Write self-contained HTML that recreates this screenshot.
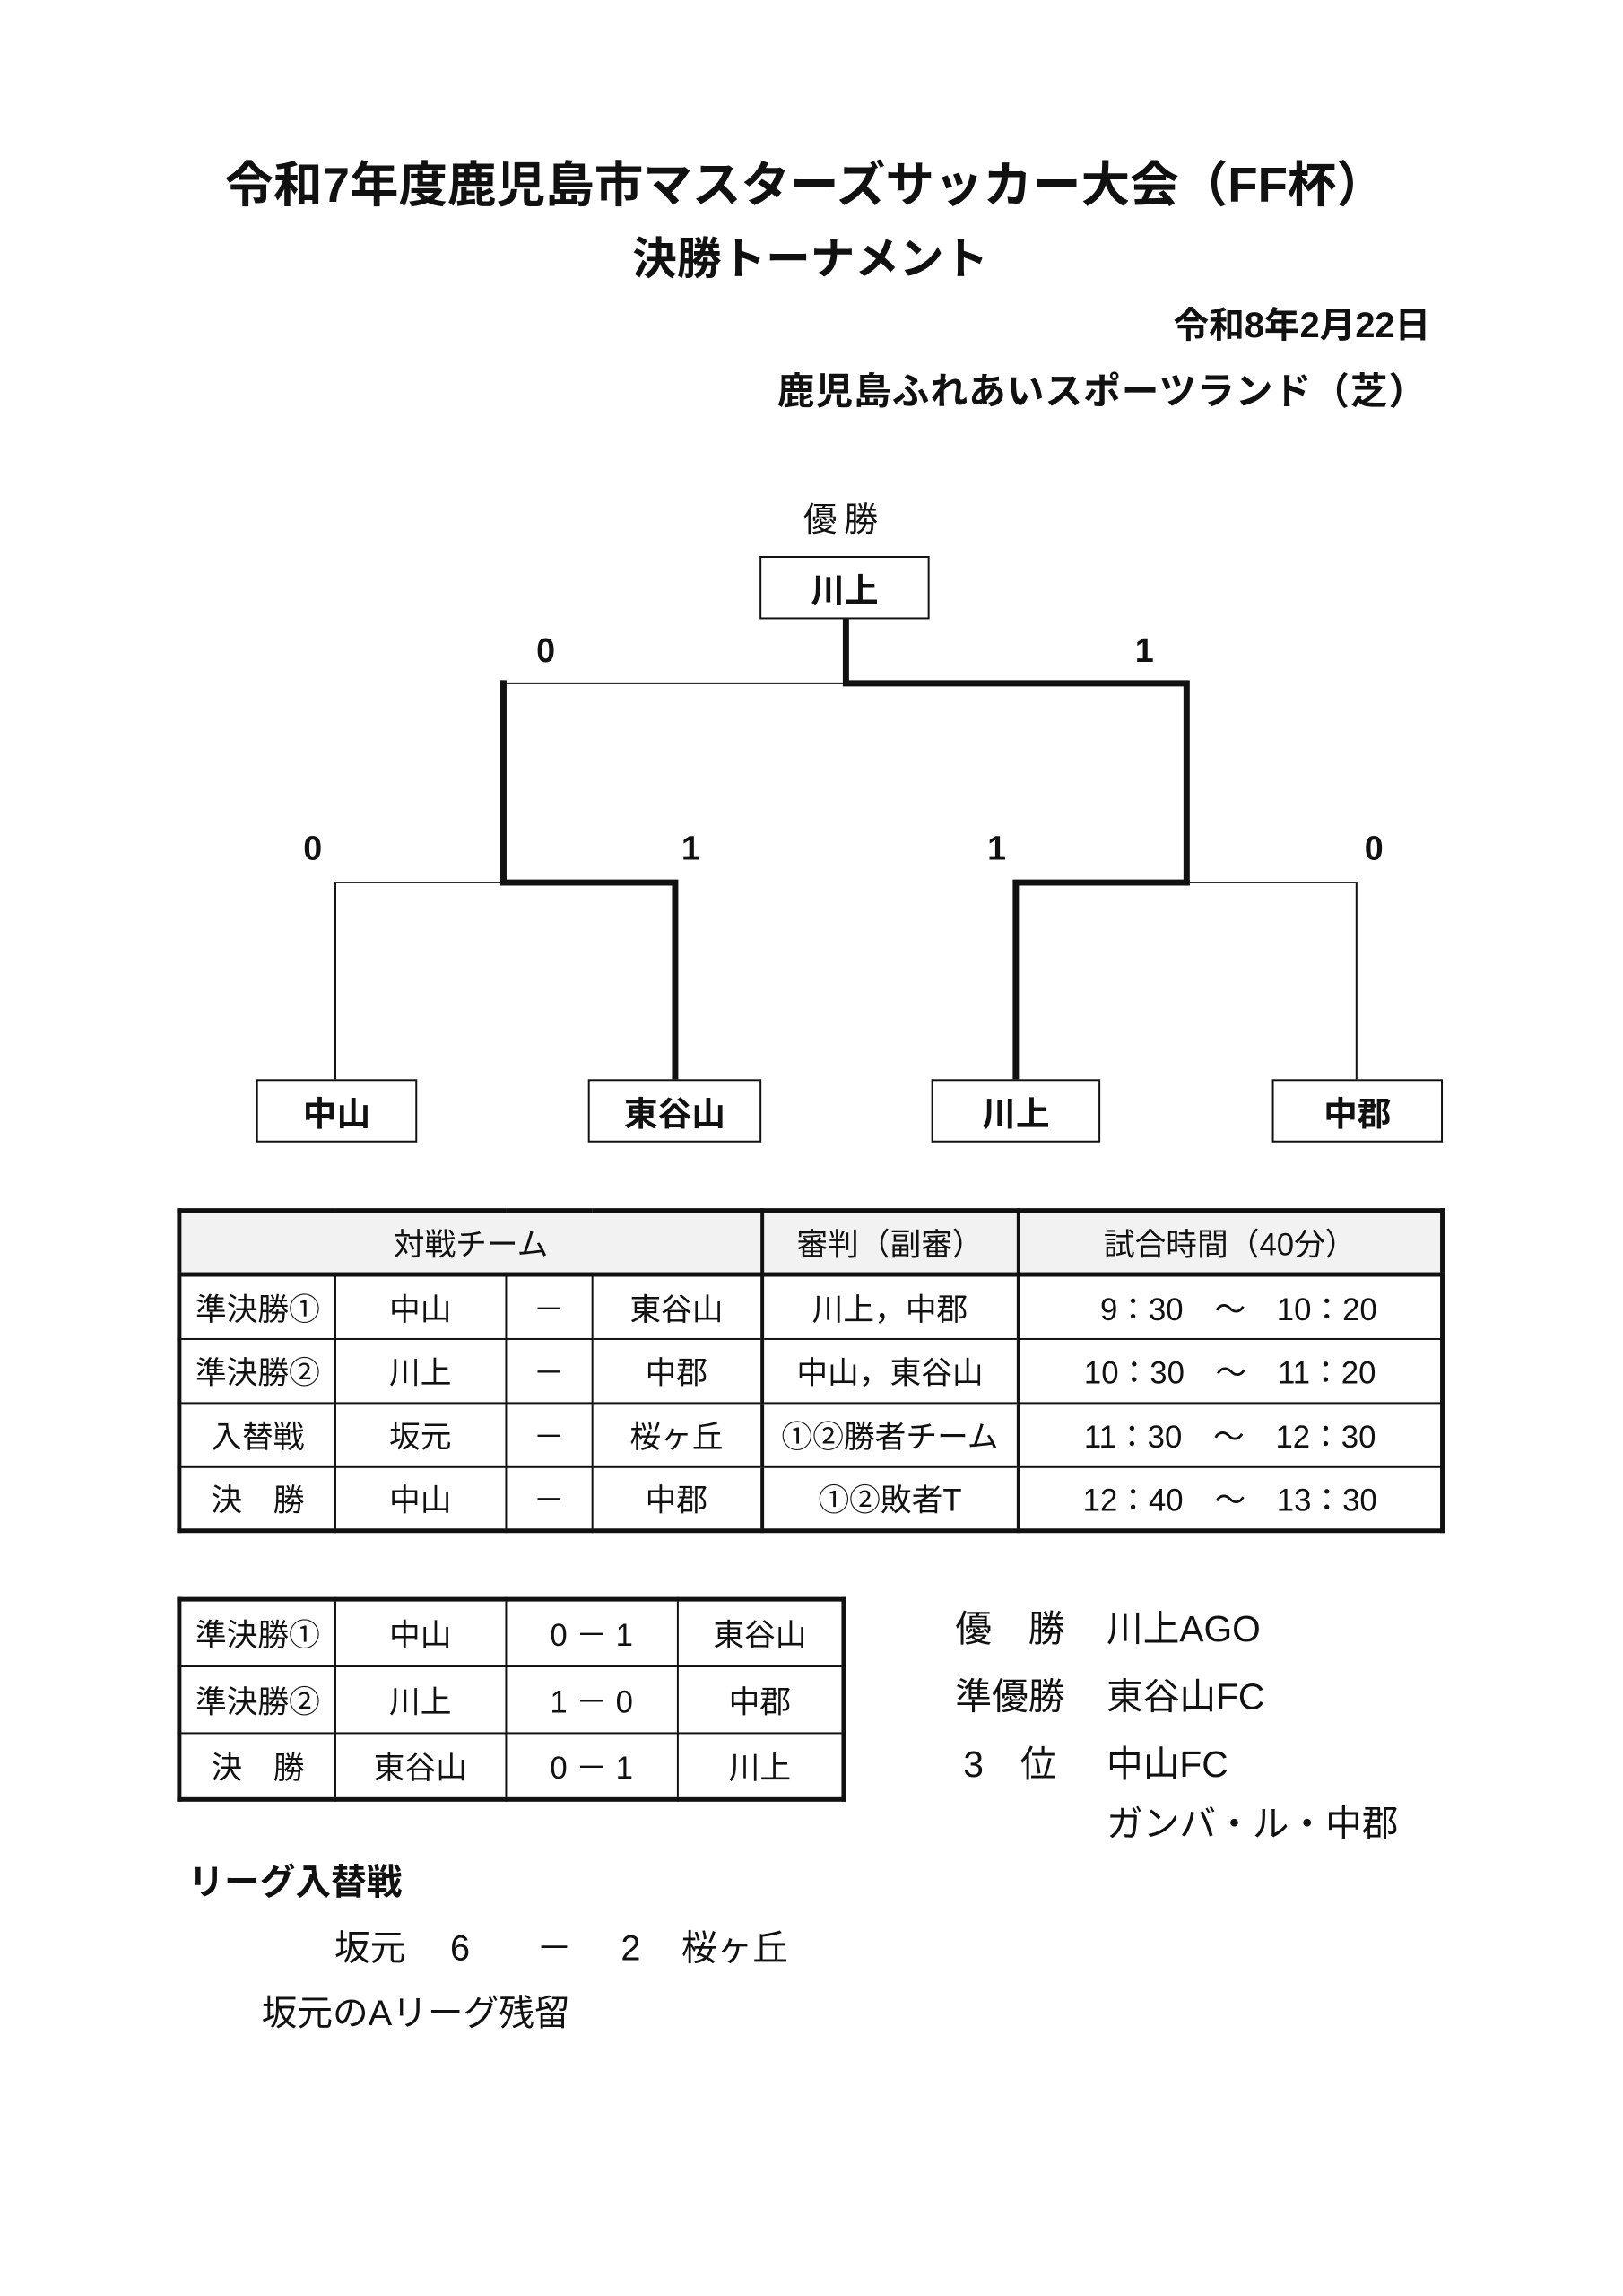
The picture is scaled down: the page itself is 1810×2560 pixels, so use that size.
<!DOCTYPE html>
<html><head><meta charset="utf-8"><style>
body{margin:0;background:#fff;}
#w{width:1810px;height:2560px;overflow:hidden;position:relative;}
#p{position:relative;width:1810px;height:2560px;transform:scale(0.992);transform-origin:0 0;font-family:"Liberation Sans","Noto Sans CJK JP",sans-serif;color:#111;}
.t{position:absolute;white-space:nowrap;line-height:1;}
.b{font-weight:bold;}
.box{position:absolute;border:2px solid #111;box-sizing:border-box;display:flex;align-items:center;justify-content:center;font-weight:bold;font-size:38px;background:#fff;}
table{position:absolute;border-collapse:collapse;font-size:35px;}
td{border:2px solid #111;text-align:center;padding:0;}
</style></head><body><div id="w"><div id="p">
<div class="t b" style="left:0;width:1810px;text-align:center;top:181px;font-size:55px;box-sizing:border-box">令和7年度鹿児島市マスターズサッカー大会（FF杯）</div>
<div class="t b" style="left:711px;top:266px;font-size:50px">決勝トーナメント</div>
<div class="t b" style="right:202px;top:346px;font-size:40px">令和8年2月22日</div>
<div class="t b" style="right:206px;top:419px;font-size:42px;letter-spacing:1px">鹿児島ふれあいスポーツランド（芝）</div>
<div class="t" style="left:903px;top:566px;font-size:38px;letter-spacing:8px">優勝</div>

<svg width="1810" height="2560" style="position:absolute;left:0;top:0">
<g fill="none" stroke="#111" stroke-linecap="square">
<path d="M566 768 H951" stroke-width="2"/>
<path d="M951 696 V768 H1334 V992" stroke-width="7"/>
<path d="M566 768 V992 H759 V1213" stroke-width="7"/>
<path d="M377 1213 V992 H566" stroke-width="2"/>
<path d="M1142 1213 V992 H1334" stroke-width="7"/>
<path d="M1334 992 H1525 V1213" stroke-width="2"/>
</g></svg>

<div class="box" style="left:854px;top:625px;width:191px;height:71px">川上</div>
<div class="box" style="left:288px;top:1213px;width:181px;height:71px">中山</div>
<div class="box" style="left:661px;top:1213px;width:195px;height:71px">東谷山</div>
<div class="box" style="left:1047px;top:1213px;width:190px;height:71px">川上</div>
<div class="box" style="left:1430px;top:1213px;width:192px;height:71px">中郡</div>

<div class="t b" style="left:603px;top:713px;font-size:38px">0</div>
<div class="t b" style="left:1276px;top:713px;font-size:38px">1</div>
<div class="t b" style="left:341px;top:935px;font-size:38px">0</div>
<div class="t b" style="left:766px;top:935px;font-size:38px">1</div>
<div class="t b" style="left:1110px;top:935px;font-size:38px">1</div>
<div class="t b" style="left:1534px;top:935px;font-size:38px">0</div>

<table style="left:199px;top:1358px;width:1425px;border:5px solid #111">
<colgroup><col style="width:175px"><col style="width:192px"><col style="width:97px"><col style="width:191px"><col style="width:288px"><col></colgroup>
<tr style="height:72px;background:#f2f2f2;border-bottom:5px solid #111"><td colspan="4">対戦チーム</td><td style="border-left:4px solid #111">審判（副審）</td><td style="border-left:4px solid #111">試合時間（40分）</td></tr>
<tr style="height:72px"><td>準決勝①</td><td>中山</td><td>－</td><td>東谷山</td><td style="border-left:4px solid #111">川上，中郡</td><td style="border-left:4px solid #111">&nbsp;&nbsp;9：30　～　10：20</td></tr>
<tr style="height:72px"><td>準決勝②</td><td>川上</td><td>－</td><td>中郡</td><td style="border-left:4px solid #111">中山，東谷山</td><td style="border-left:4px solid #111">10：30　～　11：20</td></tr>
<tr style="height:72px"><td>入替戦</td><td>坂元</td><td>－</td><td>桜ヶ丘</td><td style="border-left:4px solid #111">①②勝者チーム</td><td style="border-left:4px solid #111">11：30　～　12：30</td></tr>
<tr style="height:72px"><td>決　勝</td><td>中山</td><td>－</td><td>中郡</td><td style="border-left:4px solid #111">①②敗者T</td><td style="border-left:4px solid #111">12：40　～　13：30</td></tr>
</table>

<table style="left:199px;top:1795px;width:752px;border:5px solid #111">
<colgroup><col style="width:175px"><col style="width:192px"><col style="width:193px"><col></colgroup>
<tr style="height:75px"><td>準決勝①</td><td>中山</td><td>0 － 1</td><td>東谷山</td></tr>
<tr style="height:75px"><td>準決勝②</td><td>川上</td><td>1 － 0</td><td>中郡</td></tr>
<tr style="height:75px"><td>決　勝</td><td>東谷山</td><td>0 － 1</td><td>川上</td></tr>
</table>

<div class="t" style="left:1074px;top:1811px;font-size:41px">優　勝</div>
<div class="t" style="left:1244px;top:1811px;font-size:41px">川上AGO</div>
<div class="t" style="left:1074px;top:1887px;font-size:41px">準優勝</div>
<div class="t" style="left:1244px;top:1887px;font-size:41px">東谷山FC</div>
<div class="t" style="left:1083px;top:1963px;font-size:41px">3　位</div>
<div class="t" style="left:1244px;top:1963px;font-size:41px">中山FC</div>
<div class="t" style="left:1244px;top:2030px;font-size:41px">ガンバ・ル・中郡</div>

<div class="t b" style="left:212px;top:2096px;font-size:40px">リーグ入替戦</div>
<div class="t" style="left:376px;top:2170px;font-size:40px">坂元</div>
<div class="t" style="left:506px;top:2170px;font-size:40px">6</div>
<div class="t" style="left:603px;top:2170px;font-size:40px">－</div>
<div class="t" style="left:698px;top:2170px;font-size:40px">2</div>
<div class="t" style="left:766px;top:2170px;font-size:40px">桜ヶ丘</div>
<div class="t" style="left:294px;top:2243px;font-size:40px">坂元のAリーグ残留</div>
</div></div></body></html>
